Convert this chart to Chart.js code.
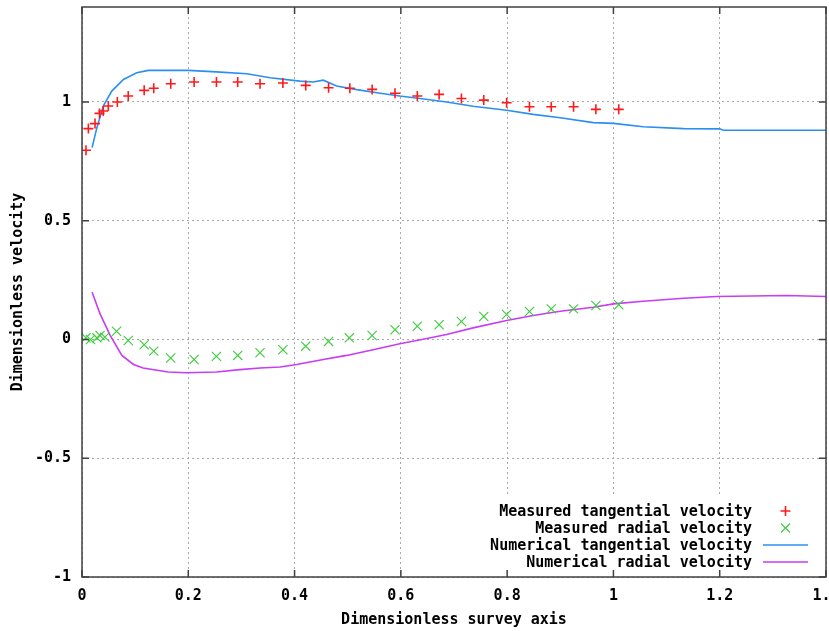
<!DOCTYPE html>
<html>
<head>
<meta charset="utf-8">
<script src="https://cdn.jsdelivr.net/npm/chart.js@4.4.1/dist/chart.umd.min.js"></script>
<style>
  body { margin: 0; background: #fff; }
  canvas { display: block; }
</style>
</head>
<body>
<canvas id="grafico" width="829" height="631"></canvas>
<script>
// datos
const tanMedidaX = [0.0075, 0.012, 0.0245, 0.033, 0.040, 0.0495, 0.0665, 0.087, 0.117, 0.135, 0.167, 0.211, 0.253, 0.293, 0.335, 0.378, 0.421, 0.464, 0.504, 0.546, 0.589, 0.631, 0.672, 0.714, 0.756, 0.799, 0.842, 0.883, 0.925, 0.967, 1.010];
const tanMedidaY = [0.797, 0.888, 0.909, 0.952, 0.962, 0.983, 1.0, 1.025, 1.049, 1.058, 1.077, 1.084, 1.084, 1.084, 1.077, 1.080, 1.070, 1.060, 1.058, 1.053, 1.037, 1.025, 1.032, 1.015, 1.008, 0.997, 0.980, 0.980, 0.980, 0.969, 0.969];

const radMedidaX = [0.0075, 0.016, 0.028, 0.034, 0.043, 0.065, 0.087, 0.117, 0.135, 0.167, 0.211, 0.253, 0.293, 0.335, 0.378, 0.421, 0.464, 0.503, 0.546, 0.589, 0.631, 0.672, 0.714, 0.756, 0.799, 0.842, 0.883, 0.925, 0.967, 1.010];
const radMedidaY = [0.007, 0.0, 0.007, 0.017, 0.010, 0.035, -0.004, -0.022, -0.049, -0.078, -0.084, -0.071, -0.067, -0.056, -0.043, -0.028, -0.008, 0.007, 0.017, 0.041, 0.056, 0.062, 0.076, 0.097, 0.105, 0.118, 0.129, 0.129, 0.143, 0.146];

const tanNumX = [0.019, 0.028, 0.040, 0.056, 0.078, 0.103, 0.125, 0.2, 0.253, 0.31, 0.354, 0.41, 0.435, 0.454, 0.479, 0.517, 0.561, 0.598, 0.636, 0.686, 0.736, 0.799, 0.849, 0.9, 0.962, 1.0, 1.056, 1.132, 1.2, 1.207, 1.4];
const tanNumY = [0.808, 0.892, 0.983, 1.046, 1.095, 1.123, 1.133, 1.133, 1.127, 1.119, 1.102, 1.088, 1.084, 1.092, 1.067, 1.052, 1.037, 1.025, 1.015, 1.0, 0.982, 0.965, 0.948, 0.934, 0.913, 0.910, 0.896, 0.888, 0.887, 0.881, 0.881];

const radNumX = [0.019, 0.034, 0.053, 0.075, 0.097, 0.115, 0.162, 0.197, 0.253, 0.297, 0.335, 0.373, 0.404, 0.454, 0.498, 0.548, 0.598, 0.642, 0.686, 0.736, 0.799, 0.849, 0.9, 0.962, 1.0, 1.056, 1.132, 1.194, 1.326, 1.4];
const radNumY = [0.199, 0.108, 0.017, -0.067, -0.105, -0.12, -0.137, -0.14, -0.137, -0.127, -0.12, -0.116, -0.105, -0.084, -0.067, -0.043, -0.018, 0.001, 0.021, 0.049, 0.08, 0.101, 0.119, 0.136, 0.15, 0.161, 0.174, 0.181, 0.185, 0.181];

const etiquetas = ["Measured tangential velocity", "Measured radial velocity", "Numerical tangential velocity", "Numerical radial velocity"];

function armarPuntos(xs, ys) {
    return xs.map((x, i) => ({ x: x, y: ys[i] }));
}

// 1, 0.5, -1 ... sin ceros de sobra
function formatoTick(valor) {
    return String(Math.round(valor * 10) / 10);
}

const fuente = { family: "'DejaVu Sans Mono', monospace", size: 15, weight: "bold" };

// leyenda estilo gnuplot: texto a la derecha, muestra al lado
const leyendaGnuplot = {
    id: "leyendaGnuplot",
    afterDatasetsDraw(chart) {
        const ctx = chart.ctx;
        const area = chart.chartArea;
        ctx.save();
        ctx.fillStyle = "#fff";
        ctx.fillRect(area.right - 346, area.bottom - 81, 334, 81);

        ctx.font = `bold ${fuente.size}px ${fuente.family}`;
        ctx.textAlign = "right";
        ctx.textBaseline = "middle";
        chart.data.datasets.forEach((ds, i) => {
            const y = area.bottom - 66 + i * 17;
            const x0 = area.right - 63;
            const x1 = area.right - 18;
            const xm = (x0 + x1) / 2;
            ctx.fillStyle = "#000";
            ctx.fillText(ds.label, area.right - 74, y + 1);
            ctx.strokeStyle = ds.borderColor;
            ctx.lineWidth = ds.borderWidth;
            ctx.beginPath();
            if (ds.pointStyle === "cross") {
                ctx.moveTo(xm - 5, y); ctx.lineTo(xm + 5, y);
                ctx.moveTo(xm, y - 5); ctx.lineTo(xm, y + 5);
            } else if (ds.pointStyle === "crossRot") {
                ctx.moveTo(xm - 4.5, y - 4.5); ctx.lineTo(xm + 4.5, y + 4.5);
                ctx.moveTo(xm - 4.5, y + 4.5); ctx.lineTo(xm + 4.5, y - 4.5);
            } else {
                ctx.moveTo(x0, y); ctx.lineTo(x1, y);
            }
            ctx.stroke();
        });

        // marco y marcas hacia adentro
        const ejeX = chart.scales.x;
        const ejeY = chart.scales.y;
        ctx.strokeStyle = "#404040";
        ctx.lineWidth = 1.5;
        ctx.beginPath();
        ejeX.ticks.forEach(t => {
            const px = ejeX.getPixelForValue(t.value);
            ctx.moveTo(px, area.bottom); ctx.lineTo(px, area.bottom - 7);
            ctx.moveTo(px, area.top); ctx.lineTo(px, area.top + 7);
        });
        ejeY.ticks.forEach(t => {
            const py = ejeY.getPixelForValue(t.value);
            ctx.moveTo(area.left, py); ctx.lineTo(area.left + 7, py);
            ctx.moveTo(area.right, py); ctx.lineTo(area.right - 7, py);
        });
        ctx.stroke();
        ctx.strokeRect(area.left, area.top, area.right - area.left, area.bottom - area.top);
        ctx.restore();
    }
};

function dibujarGrafico() {
    const ctx = document.getElementById("grafico").getContext("2d");

    new Chart(ctx, {
        type: "scatter",
        data: {
            datasets: [
                {
                    label: etiquetas[0],
                    data: armarPuntos(tanMedidaX, tanMedidaY),
                    pointStyle: "cross",
                    pointRadius: 5,
                    borderColor: "#ff1a1a",
                    backgroundColor: "#ff1a1a",
                    borderWidth: 1.6,
                    showLine: false
                },
                {
                    label: etiquetas[1],
                    data: armarPuntos(radMedidaX, radMedidaY),
                    pointStyle: "crossRot",
                    pointRadius: 6.5,
                    borderColor: "#3ccc3c",
                    backgroundColor: "#3ccc3c",
                    borderWidth: 1.1,
                    showLine: false
                },
                {
                    label: etiquetas[2],
                    data: armarPuntos(tanNumX, tanNumY),
                    showLine: true,
                    pointRadius: 0,
                    borderColor: "#2a8ff0",
                    backgroundColor: "#2a8ff0",
                    borderWidth: 1.6,
                    tension: 0
                },
                {
                    label: etiquetas[3],
                    data: armarPuntos(radNumX, radNumY),
                    showLine: true,
                    pointRadius: 0,
                    borderColor: "#c83cf5",
                    backgroundColor: "#c83cf5",
                    borderWidth: 1.6,
                    tension: 0
                }
            ]
        },
        options: {
            responsive: false,
            animation: false,
            devicePixelRatio: 1,
            layout: { autoPadding: false, padding: { top: 7, right: 3, left: 0, bottom: 0 } },
            plugins: {
                legend: { display: false },
                tooltip: { enabled: false }
            },
            scales: {
                x: {
                    type: "linear",
                    min: 0,
                    max: 1.4,
                    ticks: { stepSize: 0.2, color: "#000", font: fuente, padding: 10, maxRotation: 0, callback: formatoTick },
                    grid: { color: "#a8a8a8", lineWidth: 1, drawTicks: false },
                    border: { display: false, dash: [2, 3] },
                    title: { display: true, text: "Dimensionless survey axis", color: "#000", font: fuente, padding: { top: 0, bottom: 2 } },
                    afterFit(scale) {
                        scale.height = 54;
                        scale.paddingLeft = 0;
                        scale.paddingRight = 0;
                    }
                },
                y: {
                    min: -1,
                    max: 1.4,
                    ticks: { stepSize: 0.5, includeBounds: false, color: "#000", font: fuente, padding: 11, callback: formatoTick },
                    grid: { color: "#a8a8a8", lineWidth: 1, drawTicks: false },
                    border: { display: false, dash: [2, 3] },
                    title: { display: true, text: "Dimensionless velocity", color: "#000", font: fuente, padding: { top: 9, bottom: 0 } },
                    afterFit(scale) {
                        scale.width = 82;
                        scale.paddingTop = 0;
                        scale.paddingBottom = 0;
                    }
                }
            }
        },
        plugins: [leyendaGnuplot]
    });
}

window.addEventListener("DOMContentLoaded", () => {
    dibujarGrafico();
});
</script>
</body>
</html>
